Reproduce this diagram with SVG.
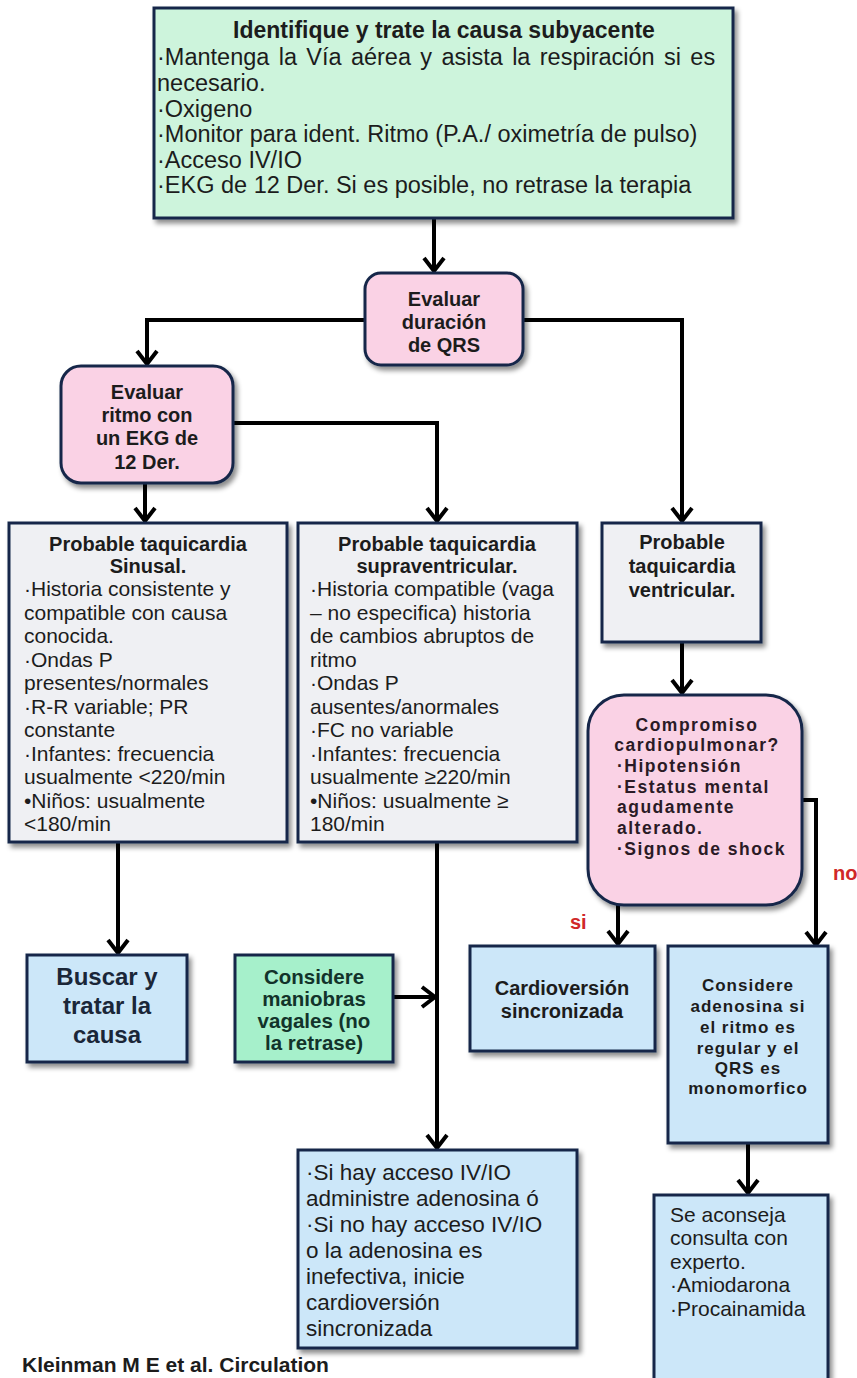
<svg xmlns="http://www.w3.org/2000/svg" width="857" height="1378" viewBox="0 0 857 1378">
<defs>
<filter id="sh" x="-10%" y="-10%" width="130%" height="130%">
<feDropShadow dx="3" dy="4" stdDeviation="2.5" flood-color="#000" flood-opacity="0.45"/>
</filter>
<marker id="ah" markerUnits="userSpaceOnUse" markerWidth="22" markerHeight="24" viewBox="0 0 22 24" refX="17" refY="12" orient="auto">
<path d="M4,2 L17,12 L4,22" fill="none" stroke="#000" stroke-width="4" stroke-linejoin="miter"/>
</marker>
<style>
.box{stroke:#15284a;stroke-width:3;filter:url(#sh)}
.green{fill:#cdf4dc}
.pink{fill:#fad2e5}
.gray{fill:#eff0f3}
.blue{fill:#cce7f9}
.mint{fill:#a6f0cb}
text{font-family:"Liberation Sans",Arial,Helvetica,sans-serif;fill:#1c1c1c}
.b{font-weight:bold}
.c{text-anchor:middle}
.top{font-size:23.5px}
.tt{font-size:23px}
.g{font-size:21px}
.gt{font-size:20px}
.pk{font-size:17.5px;letter-spacing:1.5px;fill:#2a1a26}
.ad{font-size:17px;letter-spacing:1px}
.bl{font-size:20px}
.bz{font-size:24px;fill:#1a2638}
.mt{font-size:20.5px;fill:#12332a}
.sh{font-size:22.5px}
.red{font-size:20px;font-weight:bold;fill:#d02828}
.conn{fill:none;stroke:#000;stroke-width:4;marker-end:url(#ah)}
</style>
</defs>
<rect width="857" height="1378" fill="#fff"/>

<g id="connectors">
<path class="conn" d="M434,218 V271"/>
<path class="conn" d="M365,320 H147 V364"/>
<path class="conn" d="M523,320 H682 V521"/>
<path class="conn" d="M233,423 H437 V521"/>
<path class="conn" d="M145,483 V521"/>
<path class="conn" d="M682,642 V693"/>
<path class="conn" d="M802,800 H816 V945"/>
<path class="conn" d="M618,905 V944"/>
<path class="conn" d="M118,842 V953"/>
<path class="conn" d="M393,997 H435"/>
<path class="conn" d="M437,842 V1148"/>
<path class="conn" d="M748,1143 V1193"/>
</g>

<g id="n-identifique">
<rect class="box green" x="154" y="8" width="579" height="210"/>
<text class="b c tt" x="444" y="38">Identifique y trate la causa subyacente</text>
<text class="top" x="157" y="65" word-spacing="2.8">·Mantenga la Vía aérea y asista la respiración si es</text>
<text class="top" x="157" y="91">necesario.</text>
<text class="top" x="157" y="117">·Oxigeno</text>
<text class="top" x="157" y="142">·Monitor para ident. Ritmo (P.A./ oximetría de pulso)</text>
<text class="top" x="157" y="168">·Acceso IV/IO</text>
<text class="top" x="157" y="193">·EKG de 12 Der. Si es posible, no retrase la terapia</text>
</g>

<g id="n-qrs">
<rect class="box pink" x="365" y="273" width="158" height="92" rx="16"/>
<text class="b c gt" x="444" y="306">Evaluar</text>
<text class="b c gt" x="444" y="329">duración</text>
<text class="b c gt" x="444" y="352">de QRS</text>
</g>

<g id="n-ritmo">
<rect class="box pink" x="61" y="366" width="172" height="117" rx="20"/>
<text class="b c gt" x="147" y="399">Evaluar</text>
<text class="b c gt" x="147" y="422">ritmo con</text>
<text class="b c gt" x="147" y="445">un EKG de</text>
<text class="b c gt" x="147" y="469">12 Der.</text>
</g>

<g id="n-sinusal">
<rect class="box gray" x="9" y="523" width="278" height="319"/>
<text class="b c gt" x="148" y="551">Probable taquicardia</text>
<text class="b c gt" x="148" y="573">Sinusal.</text>
<text class="g">
<tspan x="24" y="596">·Historia consistente y</tspan>
<tspan x="24" y="619.5">compatible con causa</tspan>
<tspan x="24" y="643">conocida.</tspan>
<tspan x="24" y="666.5">·Ondas P</tspan>
<tspan x="24" y="690">presentes/normales</tspan>
<tspan x="24" y="713.5">·R-R variable; PR</tspan>
<tspan x="24" y="737">constante</tspan>
<tspan x="24" y="760.5">·Infantes: frecuencia</tspan>
<tspan x="24" y="784">usualmente &lt;220/min</tspan>
<tspan x="24" y="807.5">•Niños: usualmente</tspan>
<tspan x="24" y="831">&lt;180/min</tspan>
</text>
</g>

<g id="n-supra">
<rect class="box gray" x="298" y="523" width="279" height="319"/>
<text class="b c gt" x="437" y="551">Probable taquicardia</text>
<text class="b c gt" x="437" y="573">supraventricular.</text>
<text class="g">
<tspan x="310" y="596">·Historia compatible (vaga</tspan>
<tspan x="310" y="619.5">– no especifica) historia</tspan>
<tspan x="310" y="643">de cambios abruptos de</tspan>
<tspan x="310" y="666.5">ritmo</tspan>
<tspan x="310" y="690">·Ondas P</tspan>
<tspan x="310" y="713.5">ausentes/anormales</tspan>
<tspan x="310" y="737">·FC no variable</tspan>
<tspan x="310" y="760.5">·Infantes: frecuencia</tspan>
<tspan x="310" y="784">usualmente ≥220/min</tspan>
<tspan x="310" y="807.5">•Niños: usualmente ≥</tspan>
<tspan x="310" y="831">180/min</tspan>
</text>
</g>

<g id="n-ventricular">
<rect class="box gray" x="602" y="523" width="159" height="119"/>
<text class="b c gt" x="682" y="549">Probable</text>
<text class="b c gt" x="682" y="573">taquicardia</text>
<text class="b c gt" x="682" y="597">ventricular.</text>
</g>

<g id="n-compromiso">
<rect class="box pink" x="588" y="695" width="214" height="210" rx="36"/>
<text class="b c pk" x="697" y="731">Compromiso</text>
<text class="b c pk" x="697" y="751">cardiopulmonar?</text>
<text class="b pk">
<tspan x="617" y="772">·Hipotensión</tspan>
<tspan x="617" y="793">·Estatus mental</tspan>
<tspan x="617" y="813">agudamente</tspan>
<tspan x="617" y="834">alterado.</tspan>
<tspan x="617" y="855">·Signos de shock</tspan>
</text>
</g>

<g id="labels">
<text class="red" x="570" y="929">si</text>
<text class="red" x="833" y="880">no</text>
</g>

<g id="n-cardioversion">
<rect class="box blue" x="470" y="946" width="185" height="105"/>
<text class="b c bl" x="562" y="995">Cardioversión</text>
<text class="b c bl" x="562" y="1018">sincronizada</text>
</g>

<g id="n-adenosina">
<rect class="box blue" x="668" y="946" width="160" height="197"/>
<text class="b c ad" x="748" y="991">Considere</text>
<text class="b c ad" x="748" y="1012">adenosina si</text>
<text class="b c ad" x="748" y="1033">el ritmo es</text>
<text class="b c ad" x="748" y="1054">regular y el</text>
<text class="b c ad" x="748" y="1074">QRS es</text>
<text class="b c ad" x="748" y="1094">monomorfico</text>
</g>

<g id="n-buscar">
<rect class="box blue" x="27" y="955" width="160" height="107"/>
<text class="b c bz" x="107" y="985">Buscar y</text>
<text class="b c bz" x="107" y="1014">tratar la</text>
<text class="b c bz" x="107" y="1043">causa</text>
</g>

<g id="n-vagales">
<rect class="box mint" x="235" y="955" width="158" height="107"/>
<text class="b c mt" x="314" y="984">Considere</text>
<text class="b c mt" x="314" y="1006">maniobras</text>
<text class="b c mt" x="314" y="1028">vagales (no</text>
<text class="b c mt" x="314" y="1050">la retrase)</text>
</g>

<g id="n-sihay">
<rect class="box blue" x="298" y="1150" width="279" height="198"/>
<text class="sh">
<tspan x="306" y="1180">·Si hay acceso IV/IO</tspan>
<tspan x="306" y="1206">administre adenosina ó</tspan>
<tspan x="306" y="1232">·Si no hay acceso IV/IO</tspan>
<tspan x="306" y="1258">o la adenosina es</tspan>
<tspan x="306" y="1284">inefectiva, inicie</tspan>
<tspan x="306" y="1310">cardioversión</tspan>
<tspan x="306" y="1336">sincronizada</tspan>
</text>
</g>

<g id="n-aconseja">
<rect class="box blue" x="654" y="1195" width="174" height="200"/>
<text class="g">
<tspan x="670" y="1222">Se aconseja</tspan>
<tspan x="670" y="1245">consulta con</tspan>
<tspan x="670" y="1269">experto.</tspan>
<tspan x="670" y="1292">·Amiodarona</tspan>
<tspan x="670" y="1316">·Procainamida</tspan>
</text>
</g>

<text id="citation" class="b" x="22" y="1372" font-size="21">Kleinman M E et al. Circulation</text>
</svg>
